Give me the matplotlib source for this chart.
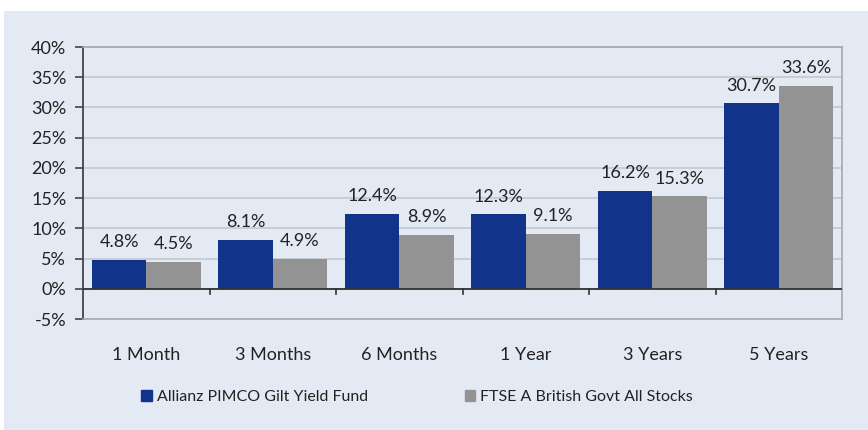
import numpy as np
import matplotlib.pyplot as plt
from matplotlib.patches import Rectangle

categories = ['1 Month', '3 Months', '6 Months', '1 Year', '3 Years', '5 Years']
fund = [4.8, 8.1, 12.4, 12.3, 16.2, 30.7]
index = [4.5, 4.9, 8.9, 9.1, 15.3, 33.6]
series_names = ['Allianz PIMCO Gilt Yield Fund', 'FTSE A British Govt All Stocks']
yticks = np.arange(-5, 41, 5)

blue = '#12338a'
grey = '#939393'
panel = '#e4eaf4'
txt = '#222222'

plt.rcParams['font.family'] = ['Lato', 'DejaVu Sans']
fs = 13

W, H = 868, 430
fig = plt.figure(figsize=(W / 100, H / 100), dpi=100)
fig.patch.set_facecolor('white')
fig.patches.append(Rectangle((4 / W, 0), 1 - 4 / W, 1 - 11 / H, transform=fig.transFigure,
                             facecolor=panel, edgecolor='none', zorder=-1))

ax = fig.add_axes([83 / W, 1 - 319 / H, (842 - 83) / W, (319 - 47) / H])
ax.set_facecolor(panel)

x = np.arange(len(categories))
w = 0.43
ax.bar(x - w / 2, fund, w, color=blue, zorder=3)
ax.bar(x + w / 2, index, w, color=grey, zorder=3)

for xi, v in zip(x, fund):
    ax.text(xi - w / 2, v + 1.6, f'{v:.1f}%', ha='center', va='bottom', fontsize=fs, color=txt)
for xi, v in zip(x, index):
    ax.text(xi + w / 2, v + 1.6, f'{v:.1f}%', ha='center', va='bottom', fontsize=fs, color=txt)

ax.set_xlim(-0.5, len(categories) - 0.5)
ax.set_ylim(-5, 40)
ax.set_yticks(yticks)
ax.set_yticklabels([f'{t}%' for t in yticks], fontsize=fs, color=txt)
ax.yaxis.grid(True, color='#c4c8cf', linewidth=1.2, zorder=0)
ax.tick_params(axis='y', length=6, width=1.2, color='#444444', pad=6)

# zero line with category separators
ax.axhline(0, color='#333333', linewidth=1.3, zorder=4)
for b in np.arange(0.5, len(categories) - 0.5, 1):
    ax.plot([b, b], [0, -0.8], color='#333333', linewidth=1.2, zorder=4)
ax.set_xticks([])
for xi, c in zip(x, categories):
    ax.text(xi, -10.9, c, ha='center', va='center', fontsize=fs, color=txt)

for s in ['top', 'right', 'bottom']:
    ax.spines[s].set_color('#a6a8ab')
    ax.spines[s].set_linewidth(1.2)
ax.spines['left'].set_color('#444444')
ax.spines['left'].set_linewidth(1.3)

handles = [Rectangle((0, 0), 1, 1, color=blue), Rectangle((0, 0), 1, 1, color=grey)]
fig.legend(handles, series_names, loc='center left', bbox_to_anchor=(127 / W, 1 - 397 / H),
           ncol=2, frameon=False, fontsize=11.5, handlelength=0.65, handleheight=0.65,
           handletextpad=0.3, columnspacing=6.1, labelcolor=txt)

fig.savefig('out.png', dpi=100, facecolor='white')
